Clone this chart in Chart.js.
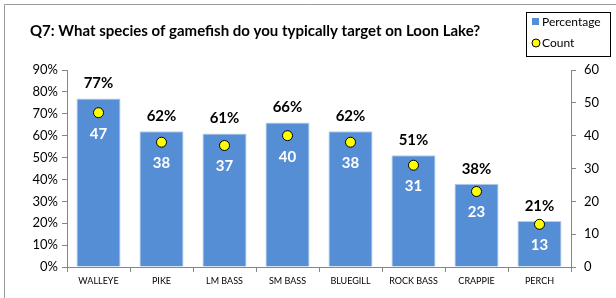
<!DOCTYPE html>
<html>
<head>
<meta charset="utf-8">
<script src="https://cdn.jsdelivr.net/npm/chart.js@4.4.1/dist/chart.umd.min.js"></script>
<style>
  html, body { margin: 0; padding: 0; background: #fff; }
  #wrap { width: 616px; height: 298px; position: relative; }
</style>
</head>
<body>
<div id="wrap"><canvas id="chart" width="616" height="298"></canvas></div>
<script>
// data
var categories = ['WALLEYE', 'PIKE', 'LM BASS', 'SM BASS', 'BLUEGILL', 'ROCK BASS', 'CRAPPIE', 'PERCH'];
var percentages = [77, 62, 61, 66, 62, 51, 38, 21];
var counts = [47, 38, 37, 40, 38, 31, 23, 13];
var titleText = 'Q7: What species of gamefish do you typically target on Loon Lake?';

var FONT = 'Lato, "Liberation Sans", sans-serif';
var BAR_COLOR = '#558ED5';

// plot area edges
var PLOT = { left: 67, right: 571, top: 70, bottom: 267 };

var labelsPlugin = {
    id: 'valueLabels',
    afterDatasetsDraw: function (chart) {
        var ctx = chart.ctx;
        var bars = chart.getDatasetMeta(0).data;
        var pts = chart.getDatasetMeta(1).data;
        ctx.save();
        ctx.textAlign = 'center';
        ctx.textBaseline = 'middle';
        bars.forEach(function (bar, i) {
            ctx.fillStyle = '#000';
            ctx.font = 'bold 15px ' + FONT;
            ctx.fillText(percentages[i] + '%', bar.x, bar.y - 15);
            ctx.fillStyle = '#fff';
            ctx.fillText(String(counts[i]), pts[i].x, pts[i].y + 21);
        });
        ctx.restore();
    }
};

var framePlugin = {
    id: 'frame',
    afterDraw: function (chart) {
        var ctx = chart.ctx;
        ctx.save();
        // outer border (only top and left show in the crop)
        ctx.strokeStyle = '#9a9a9a';
        ctx.lineWidth = 1;
        ctx.beginPath();
        ctx.moveTo(4.5, 300);
        ctx.lineTo(4.5, 4.5);
        ctx.lineTo(616, 4.5);
        ctx.stroke();

        // title
        ctx.fillStyle = '#000';
        ctx.font = 'bold 15px ' + FONT;
        ctx.textBaseline = 'middle';
        ctx.textAlign = 'left';
        ctx.fillText(titleText, 30, 31);

        // legend box
        var lx = 526.5, ly = 12.5, lw = 84, lh = 44;
        ctx.fillStyle = '#fff';
        ctx.fillRect(lx, ly, lw, lh);
        ctx.strokeStyle = '#000';
        ctx.strokeRect(lx, ly, lw, lh);
        ctx.font = '12px ' + FONT;
        ctx.fillStyle = BAR_COLOR;
        ctx.fillRect(532, 18, 7, 7);
        ctx.fillStyle = '#000';
        ctx.fillText(chart.data.datasets[0].label, 542, 22);
        ctx.beginPath();
        ctx.arc(536, 43, 4, 0, Math.PI * 2);
        ctx.fillStyle = '#ffff00';
        ctx.fill();
        ctx.strokeStyle = '#000';
        ctx.stroke();
        ctx.fillStyle = '#000';
        ctx.fillText(chart.data.datasets[1].label, 542, 43);
        ctx.restore();
    }
};

var axisColor = '#868686';
var tickFont = { family: FONT, size: 13 };

var chart = new Chart(document.getElementById('chart'), {
    type: 'bar',
    data: {
        labels: categories,
        datasets: [
            {
                label: 'Percentage',
                data: percentages,
                backgroundColor: BAR_COLOR,
                borderColor: '#b9cde5',
                borderWidth: 1,
                categoryPercentage: 0.7,
                barPercentage: 1.0,
                yAxisID: 'y',
                order: 2
            },
            {
                type: 'line',
                label: 'Count',
                data: counts,
                showLine: false,
                pointRadius: 5,
                pointBackgroundColor: '#ffff00',
                pointBorderColor: '#000',
                pointBorderWidth: 1,
                yAxisID: 'y1',
                order: 1
            }
        ]
    },
    options: {
        responsive: false,
        animation: false,
        layout: { padding: { top: PLOT.top, left: 0, right: 0, bottom: 0 } },
        plugins: {
            legend: { display: false },
            title: { display: false },
            tooltip: { enabled: false }
        },
        scales: {
            x: {
                grid: { display: true, drawOnChartArea: false, color: axisColor, tickLength: 5 },
                border: { color: axisColor },
                ticks: { color: '#000', font: { family: FONT, size: 9 }, maxRotation: 0, padding: 4 },
                afterFit: function (s) { s.height = 298 - PLOT.bottom; }
            },
            y: {
                position: 'left',
                min: 0,
                max: 90,
                grid: { display: true, drawOnChartArea: false, color: axisColor, tickLength: 5 },
                border: { color: axisColor },
                ticks: {
                    stepSize: 10,
                    color: '#000',
                    font: tickFont,
                    padding: 4,
                    callback: function (v) { return v + '%'; }
                },
                afterFit: function (s) { s.width = PLOT.left; }
            },
            y1: {
                position: 'right',
                min: 0,
                max: 60,
                grid: { display: true, drawOnChartArea: false, color: axisColor, tickLength: 5 },
                border: { color: axisColor },
                ticks: { stepSize: 10, color: '#000', font: tickFont, padding: 8 },
                afterFit: function (s) { s.width = 616 - PLOT.right; }
            }
        }
    },
    plugins: [labelsPlugin, framePlugin]
});
</script>
</body>
</html>
